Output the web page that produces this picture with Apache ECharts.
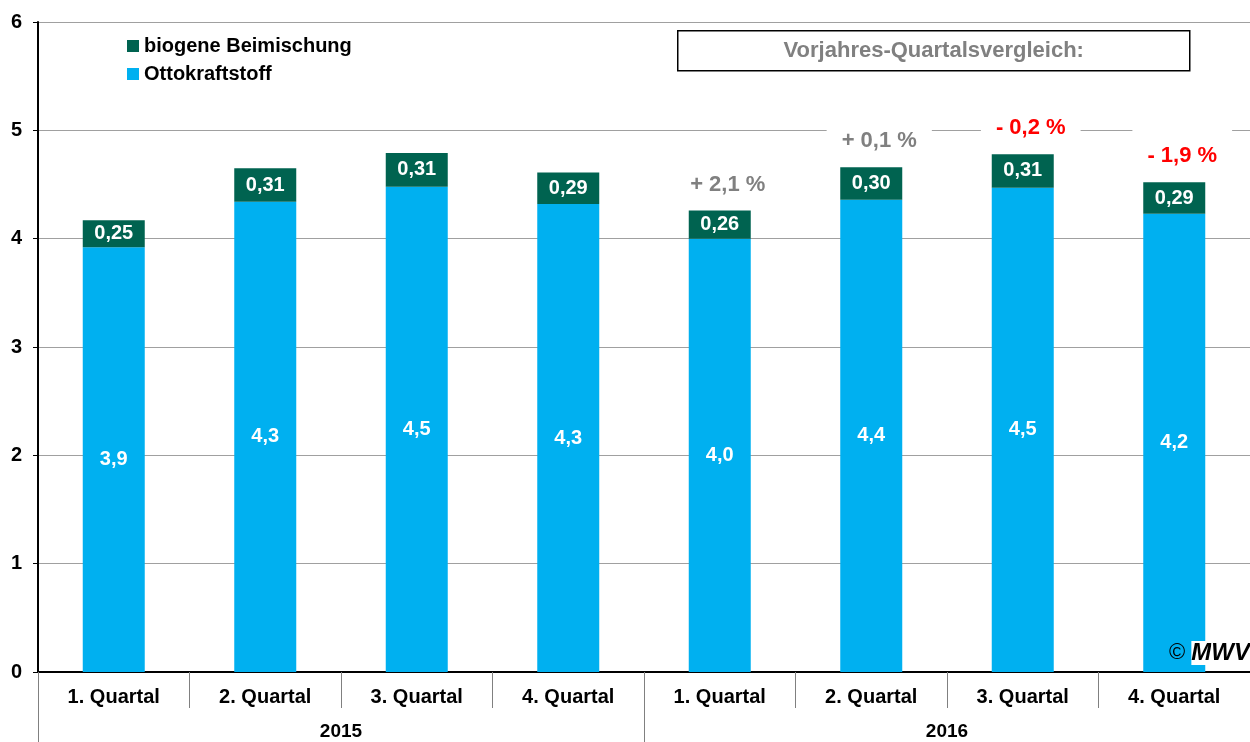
<!DOCTYPE html>
<html>
<head>
<meta charset="utf-8">
<script src="https://cdn.jsdelivr.net/npm/echarts@6/dist/echarts.min.js"></script>
<style>
html,body{margin:0;padding:0;background:#fff;}
#chart{width:1250px;height:742px;}
</style>
</head>
<body>
<div id="chart"></div>
<script>
const categories = ['1. Quartal', '2. Quartal', '3. Quartal', '4. Quartal', '1. Quartal', '2. Quartal', '3. Quartal', '4. Quartal'];
const years = ['2015', '2016'];
const ottokraftstoff = [3.92, 4.34, 4.48, 4.32, 4.00, 4.36, 4.47, 4.23];
const biogeneBeimischung = [0.25, 0.31, 0.31, 0.29, 0.26, 0.30, 0.31, 0.29];
const vorjahresVergleich = [null, null, null, null, 2.1, 0.1, -0.2, -1.9];
const seriesNames = ['biogene Beimischung', 'Ottokraftstoff'];
const boxTitle = 'Vorjahres-Quartalsvergleich:';

const FONT = '"Liberation Sans", Arial, sans-serif';
const BLUE = '#00B0F0';
const GREEN = '#006350';

function fmt(v, d) { return v.toFixed(d).replace('.', ','); }
function fmtChange(v) { return (v >= 0 ? '+ ' : '- ') + fmt(Math.abs(v), 1) + ' %'; }

const changeLabelBase = {
  show: true, position: 'top', distance: 13,
  offset: [8, 0],
  fontFamily: FONT, fontSize: 22, fontWeight: 'bold',
  backgroundColor: '#fff',
  padding: [18, 15, 2, 15]
};

const changeData = vorjahresVergleich.map(v => v === null ? '-' : {
  value: 0,
  label: Object.assign({}, changeLabelBase, {
    formatter: fmtChange(v),
    color: v >= 0 ? '#808080' : '#FF0000'
  })
});

const chart = echarts.init(document.getElementById('chart'));
chart.setOption({
  animation: false,
  backgroundColor: '#fff',
  textStyle: { fontFamily: FONT },
  grid: { left: 38, right: 0, top: 22, bottom: 70, containLabel: false },
  legend: {
    data: seriesNames,
    orient: 'vertical',
    left: 122, top: 31,
    itemWidth: 12, itemHeight: 12, itemGap: 8,
    icon: 'rect',
    textStyle: { fontFamily: FONT, fontSize: 20, fontWeight: 'bold', color: '#000' }
  },
  xAxis: [{
    type: 'category',
    data: categories,
    axisLine: { lineStyle: { color: '#000', width: 2 } },
    axisTick: { show: true, length: 36, interval: 0, lineStyle: { color: '#808080', width: 1 } },
    axisLabel: { interval: 0, margin: 15, fontFamily: FONT, fontSize: 20, fontWeight: 'bold', color: '#000' }
  }, {
    type: 'category',
    data: years,
    position: 'bottom',
    offset: 0,
    axisLine: { show: false },
    axisTick: { show: true, length: 70, interval: 0, lineStyle: { color: '#808080', width: 1 } },
    axisLabel: { interval: 0, margin: 50, fontFamily: FONT, fontSize: 19, fontWeight: 'bold', color: '#000' }
  }],
  yAxis: {
    type: 'value',
    min: 0, max: 6, interval: 1,
    axisLine: { show: true, lineStyle: { color: '#000', width: 2 } },
    axisTick: { show: true, length: 5, lineStyle: { color: '#000' } },
    axisLabel: { margin: 16, fontFamily: FONT, fontSize: 20, fontWeight: 'bold', color: '#000' },
    splitLine: { show: true, lineStyle: { color: '#A0A0A0', width: 1 } }
  },
  series: [{
    name: 'Ottokraftstoff',
    type: 'bar',
    stack: 'total',
    barWidth: 62,
    data: ottokraftstoff,
    itemStyle: { color: BLUE },
    label: {
      show: true, position: 'inside',
      formatter: p => fmt(p.value, 1),
      fontFamily: FONT, fontSize: 20, fontWeight: 'bold', color: '#fff'
    }
  }, {
    name: 'biogene Beimischung',
    type: 'bar',
    stack: 'total',
    barWidth: 62,
    data: biogeneBeimischung,
    itemStyle: { color: GREEN },
    label: {
      show: true, position: 'inside',
      formatter: p => fmt(p.value, 2),
      fontFamily: FONT, fontSize: 20, fontWeight: 'bold', color: '#fff'
    }
  }, {
    name: 'Vergleich',
    type: 'bar',
    stack: 'total',
    barWidth: 62,
    data: changeData,
    itemStyle: { color: 'rgba(0,0,0,0)' },
    silent: true,
    z: 5,
    label: changeLabelBase
  }],
  graphic: [{
    type: 'group',
    left: 677, top: 30,
    children: [{
      type: 'rect',
      shape: { x: 0, y: 0, width: 512, height: 40 },
      style: { fill: '#fff', stroke: '#000', lineWidth: 1.5 }
    }, {
      type: 'text',
      x: 256, y: 20,
      style: {
        text: boxTitle, align: 'center', verticalAlign: 'middle',
        font: 'bold 22px ' + FONT, fill: '#808080'
      }
    }]
  }, {
    type: 'text',
    right: 0, top: 641,
    z: 10,
    style: {
      text: '{a|© }{b|M}{c|WV}',
      rich: {
        a: { fontFamily: FONT, fontSize: 22, color: '#000' },
        b: { fontFamily: FONT, fontSize: 24, fontWeight: 'bold', fontStyle: 'italic', color: '#000', backgroundColor: '#fff' },
        c: { fontFamily: FONT, fontSize: 24, fontWeight: 'bold', fontStyle: 'italic', color: '#999', backgroundColor: '#fff' }
      }
    }
  }]
});
</script>
</body>
</html>
